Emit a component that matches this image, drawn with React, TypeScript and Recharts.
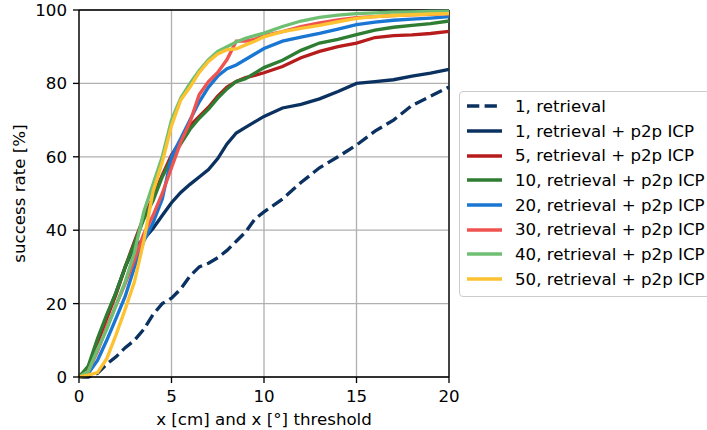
import React from 'react';
import { LineChart, Line, XAxis, YAxis, CartesianGrid, Legend, ReferenceLine } from 'recharts';

// threshold grid (x axis)
const xs = [0, 0.5, 1, 1.5, 2, 2.5, 3, 3.5, 4, 4.5, 5, 5.5, 6, 6.5, 7, 7.5, 8, 8.5, 9, 9.5, 10, 11, 12, 13, 14, 15, 16, 17, 18, 19, 20];

// success rate [%] per setting
const retrieval1 = [0, 0, 1, 3.5, 5.5, 8, 10, 13, 17, 20, 21.5, 24, 27.5, 30, 31, 32.5, 34.5, 37, 39.5, 43, 45, 48.5, 53, 57, 60, 63.2, 67, 70, 74, 76.5, 79];
const icp1 = [0, 2.5, 9.5, 16.5, 23, 30, 35.5, 37.5, 40.5, 44, 47.5, 50.3, 52.5, 54.5, 56.5, 59.5, 63.5, 66.5, 68, 69.5, 71, 73.3, 74.3, 75.8, 77.8, 80, 80.5, 81, 82, 82.8, 83.8];
const icp5 = [0, 2.5, 9.5, 16, 22.5, 30, 37, 43.5, 49, 55, 60.5, 64.5, 68.5, 71, 73.5, 76.5, 79, 80.5, 81.6, 82.2, 82.9, 84.6, 87, 88.7, 90, 91, 92.5, 93, 93.2, 93.6, 94.2];
const icp10 = [0, 3, 10.5, 17, 23, 30, 36.5, 43, 48, 54.5, 59.5, 63.5, 67.5, 70.5, 73, 76, 78.5, 80.5, 81.3, 82.8, 84.3, 86.3, 89, 91, 92, 93.3, 94.5, 95.3, 95.8, 96.3, 97];
const icp20 = [0, 1, 4.5, 10, 16, 22, 30, 37, 42, 48.5, 60, 65, 70, 75, 79, 82, 84, 85, 86.5, 88, 89.5, 91.5, 92.6, 93.6, 94.8, 96, 96.7, 97.2, 97.5, 97.8, 98.2];
const icp30 = [0, 1.5, 7, 13.5, 19.5, 25.5, 32, 39, 44, 50, 57, 64, 69.5, 77, 80.5, 83, 86.5, 91.5, 91.5, 92, 93, 94.1, 95.5, 96.5, 97.3, 97.9, 98.2, 98.5, 98.7, 98.8, 99];
const icp40 = [0, 1.5, 7.5, 13, 19.5, 26, 34, 45, 52.5, 60, 70, 76, 80, 83.5, 86.5, 88.7, 90, 91.3, 92.3, 93, 93.7, 95.5, 97, 98, 98.6, 99, 99.2, 99.4, 99.5, 99.6, 99.7];
const icp50 = [0, 0.5, 1.2, 5, 11.5, 18.5, 26, 37, 50.5, 58.5, 68.5, 75.5, 79, 83, 86, 88, 89.2, 89.4, 90.5, 91.5, 92.7, 94.1, 95, 95.8, 96.8, 97.7, 98.2, 98.5, 98.7, 98.9, 99];

const xTicks = [0, 5, 10, 15, 20];
const yTicks = [0, 20, 40, 60, 80, 100];

const series = [
  { key: 'r1', name: '1, retrieval', values: retrieval1, color: '#0b3161', dashed: true },
  { key: 'i1', name: '1, retrieval + p2p ICP', values: icp1, color: '#0b3161' },
  { key: 'i5', name: '5, retrieval + p2p ICP', values: icp5, color: '#b71c1c' },
  { key: 'i10', name: '10, retrieval + p2p ICP', values: icp10, color: '#2e7d32' },
  { key: 'i20', name: '20, retrieval + p2p ICP', values: icp20, color: '#1976d2' },
  { key: 'i30', name: '30, retrieval + p2p ICP', values: icp30, color: '#ef5350' },
  { key: 'i40', name: '40, retrieval + p2p ICP', values: icp40, color: '#6fbf73' },
  { key: 'i50', name: '50, retrieval + p2p ICP', values: icp50, color: '#fdc231' },
];

const data = xs.map((x, i) => {
  const row: Record<string, number> = { x };
  series.forEach(s => { row[s.key] = s.values[i]; });
  return row;
});

const FONT = 16.67;
const LW = 3.33;

const renderLegend = () => (
  <div style={{
    border: '1px solid #cccccc', borderRadius: 4, background: 'rgba(255,255,255,0.8)',
    paddingTop: 2, paddingBottom: 4, width: 260, boxSizing: 'border-box',
  }}>
    {series.map(s => (
      <div key={s.key} style={{ height: 24.7, display: 'flex', alignItems: 'center' }}>
        <svg width={37} height={8} style={{ marginLeft: 6, flexShrink: 0 }}>
          <line x1={1} y1={4} x2={36} y2={4} stroke={s.color} strokeWidth={LW}
            strokeDasharray={s.dashed ? '12.3 5.3' : undefined} />
        </svg>
        <span style={{ marginLeft: 12, fontSize: FONT, color: '#000', whiteSpace: 'nowrap' }}>{s.name}</span>
      </div>
    ))}
  </div>
);

// rotated y-axis title, centred on the plot height (plot spans y 10..377)
const YTitle = () => {
  const cx = 25;
  const cy = 193.5;
  return (
    <text x={cx} y={cy} transform={`rotate(-90, ${cx}, ${cy})`} textAnchor="middle" fontSize={FONT} fill="#000">
      success rate [%]
    </text>
  );
};

export default function App() {
  return (
    <div style={{ position: 'absolute', left: 0, top: 0, width: 707, height: 430, overflow: 'hidden', background: '#fff', fontFamily: 'DejaVu Sans' }}>
      <LineChart width={707} height={430} data={data} margin={{ top: 10, right: 258, bottom: 0, left: 0 }}>
        <CartesianGrid stroke="#b0b0b0" strokeWidth={1.33} />
        <XAxis dataKey="x" type="number" domain={[0, 20]} ticks={xTicks} height={53}
          stroke="#000" strokeWidth={1.33} tickSize={6} tickMargin={7}
          tick={{ fill: '#000', fontSize: FONT }}
          label={{ value: 'x [cm] and x [°] threshold', position: 'insideBottom', offset: 5, fill: '#000', fontSize: FONT }} />
        <YAxis type="number" domain={[0, 100]} ticks={yTicks} width={79}
          stroke="#000" strokeWidth={1.33} tickSize={6} tickMargin={6}
          tick={{ fill: '#000', fontSize: FONT }}
          label={{ content: YTitle }} />
        <ReferenceLine y={100} stroke="#000" strokeWidth={1.33} />
        <ReferenceLine x={20} stroke="#000" strokeWidth={1.33} />
        {series.map(s => (
          <Line key={s.key} dataKey={s.key} name={s.name} type="linear" stroke={s.color}
            strokeWidth={LW} strokeDasharray={s.dashed ? '12.3 5.3' : undefined}
            dot={false} activeDot={false} isAnimationActive={false} />
        ))}
        <Legend layout="vertical" align="center" verticalAlign="middle" content={renderLegend}
          wrapperStyle={{ left: 459, top: 91, width: 260 }} />
      </LineChart>
    </div>
  );
}
